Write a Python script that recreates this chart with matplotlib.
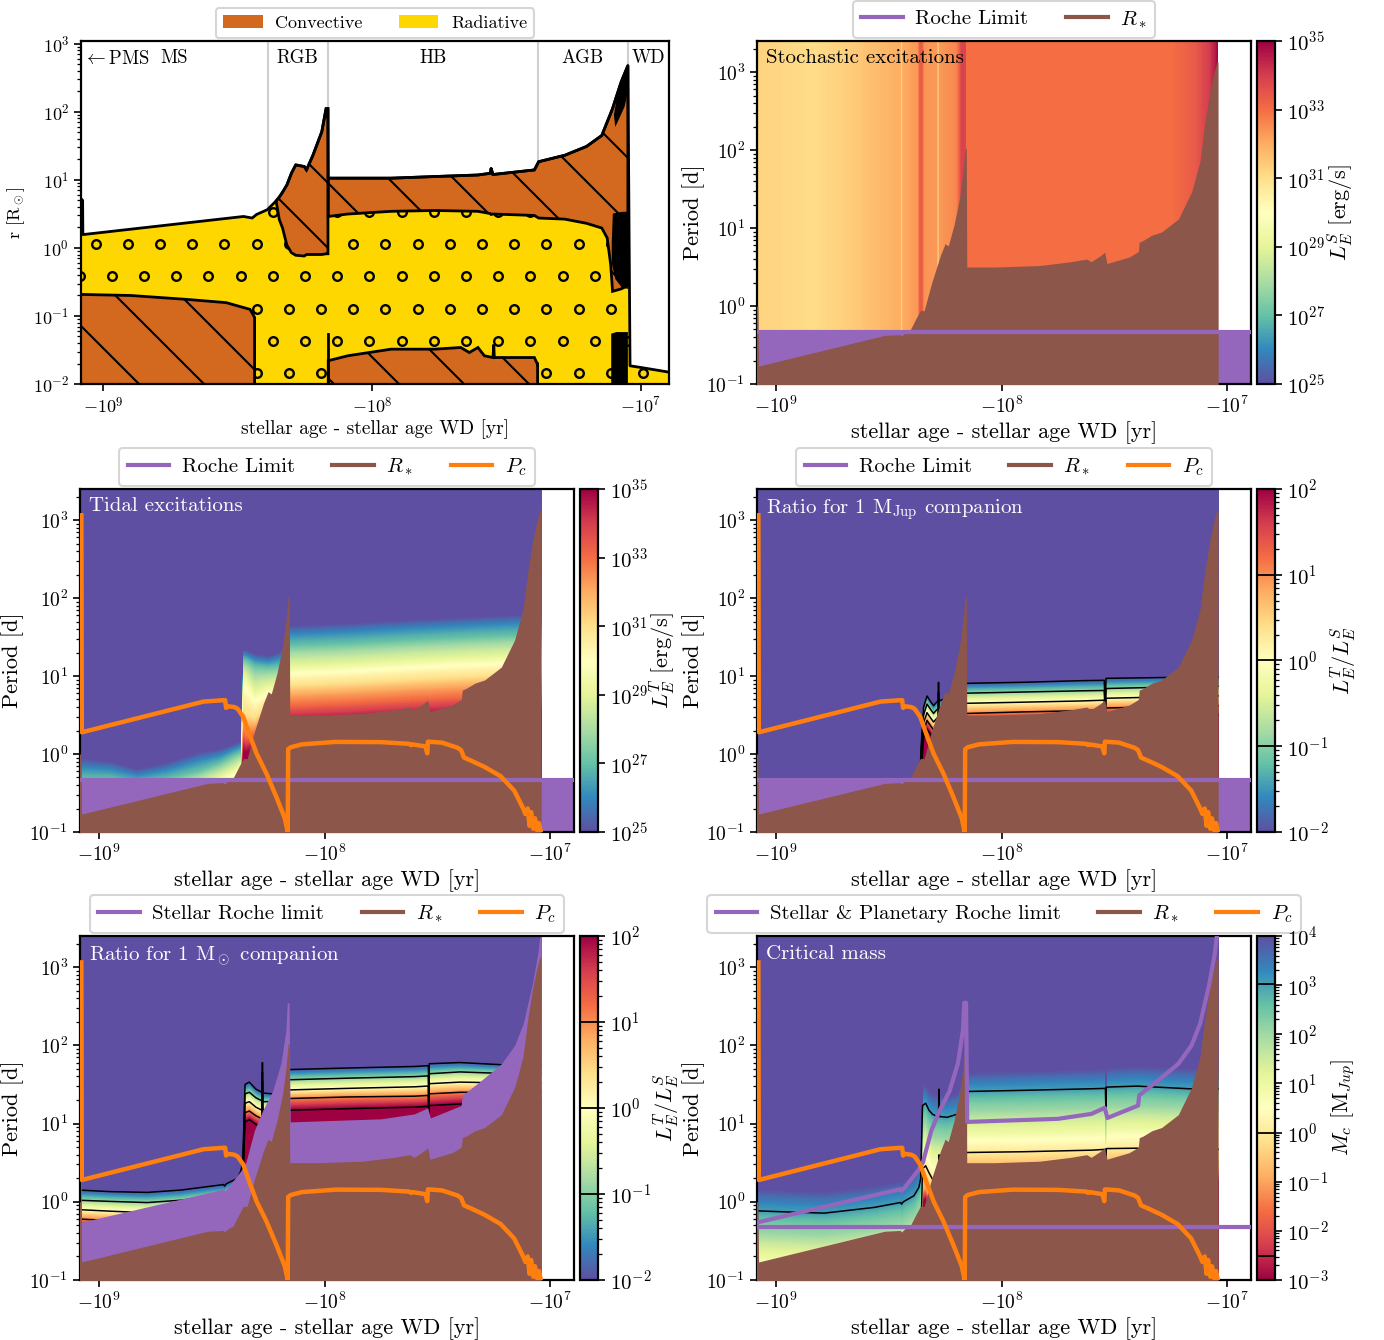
import numpy as np
import matplotlib
matplotlib.use("Agg")
import matplotlib.pyplot as plt
from matplotlib.cm import ScalarMappable
from matplotlib.collections import LineCollection
from matplotlib.colors import LogNorm
from matplotlib.lines import Line2D
from matplotlib.patches import Patch, Polygon
from matplotlib.ticker import NullLocator

plt.rcParams.update({
    "font.family": "serif",
    "font.serif": ["cmr10"],
    "mathtext.fontset": "cm",
    "axes.formatter.use_mathtext": True,
    "axes.linewidth": 1.6,
    "xtick.major.width": 1.2,
    "ytick.major.width": 1.2,
    "ytick.minor.width": 0.9,
    "xtick.major.size": 5,
    "ytick.major.size": 5,
    "ytick.minor.size": 3,
})

# ---------------------------------------------------------------------------
# Data. Ages are log10(years before the white dwarf stage), periods in days.
# ---------------------------------------------------------------------------

# stellar surface (Kippenhahn panel), radius in R_sun
surf_logage = [9.085, 9.077, 9.076, 8.478, 8.446, 8.430, 8.390, 8.357, 8.345, 8.333,
               8.317, 8.300, 8.284, 8.252, 8.244, 8.220, 8.187, 8.171, 8.164, 8.163,
               7.929, 7.767, 7.606, 7.560, 7.557, 7.550, 7.396, 7.380, 7.283, 7.202,
               7.145, 7.105, 7.073, 7.048, 7.040, 7.000, 6.880]
surf_r = [5.4, 5.0, 1.57, 2.9, 2.75, 3.1, 3.64, 4.9, 5.6, 6.6,
          8.4, 12.5, 16.6, 15.7, 14.0, 23, 51, 112, 112, 10.6,
          10.6, 11.2, 11.8, 12.5, 14.8, 12.0, 14, 18.5, 23, 31,
          45, 112, 275, 480, 0.0185, 0.0175, 0.0146]

# convective zones
ms_core_logage = [9.090, 9.076, 8.898, 8.688, 8.543, 8.454, 8.440, 8.437]
ms_core_top = [0.207, 0.207, 0.20, 0.175, 0.157, 0.125, 0.10, 0.095]

rgb_env_logage = [8.357, 8.345, 8.333, 8.317, 8.300, 8.284, 8.252, 8.244, 8.220, 8.187, 8.171, 8.164]
rgb_env_top = [4.9, 5.6, 6.6, 8.4, 12.5, 16.6, 15.7, 14.0, 23, 51, 112, 112]
rgb_env_base = [4.9, 2.6, 1.96, 1.1, 0.85, 0.78, 0.76, 0.80, 0.80, 0.80, 0.82, 0.82]

hb_env_logage = [8.163, 8.090, 7.929, 7.767, 7.606, 7.560, 7.557, 7.550, 7.396, 7.380,
                 7.283, 7.202, 7.145, 7.125, 7.112, 7.105, 7.073, 7.048]
hb_env_top = [10.6, 10.6, 10.6, 11.2, 11.8, 12.5, 14.8, 12.0, 14, 18.5,
              23, 31, 45, 71, 95, 112, 275, 480]
hb_env_base = [2.9, 3.15, 3.45, 3.55, 3.45, 3.2, 3.1, 3.15, 3.0, 2.75,
               2.65, 2.3, 1.96, 1.4, 0.57, 0.23, 0.25, 0.28]

hb_core_logage = [8.163, 8.090, 7.929, 7.767, 7.670, 7.638, 7.606, 7.582, 7.550, 7.547,
                  7.545, 7.396, 7.385, 7.384]
hb_core_top = [0.022, 0.026, 0.0325, 0.0325, 0.0344, 0.029, 0.0344, 0.026, 0.0245, 0.038,
               0.0245, 0.0245, 0.0197, 0.0197]

flash_logage = [8.163, 8.163]
flash_r = [0.001, 0.055]

# thermally pulsing AGB layers
pulse_env_logage = [7.108, 7.104, 7.070, 7.048, 7.048, 7.070, 7.095, 7.108]
pulse_env_r = [1.2, 3.2, 3.4, 3.4, 0.25, 0.26, 0.35, 0.6]
pulse_core_logage = [7.110, 7.110, 7.090, 7.048, 7.048]
pulse_core_r = [0.001, 0.055, 0.058, 0.058, 0.001]
pulse_surf_logage = [7.100, 7.085, 7.070, 7.055, 7.048, 7.048, 7.060, 7.080, 7.095]
pulse_surf_r = [90, 200, 300, 420, 520, 200, 120, 80, 60]

phase_logage = [8.389, 8.163, 7.384, 7.048]
phase_label_logage = [9.075, 8.735, 8.276, 7.773, 7.216, 6.970]
phase_labels = [r"$\leftarrow$PMS", "MS", "RGB", "HB", "AGB", "WD"]

# orbital period at the stellar surface
rstar_logage = [9.090, 9.079, 9.076, 8.518, 8.449, 8.443, 8.429, 8.405, 8.379, 8.359,
                8.343, 8.309, 8.270, 8.250, 8.236, 8.210, 8.186, 8.171, 8.161, 8.156,
                8.154, 8.031, 7.832, 7.693, 7.623, 7.603, 7.563, 7.543, 7.533, 7.434,
                7.394, 7.390, 7.374, 7.334, 7.291, 7.217, 7.158, 7.121, 7.100, 7.080,
                7.062, 7.046, 7.041, 7.040]
rstar_period = [1.0, 1.0, 0.17, 0.42, 0.43, 0.41, 0.45, 0.49, 0.69, 0.88,
                0.87, 2.0, 4.5, 6.3, 5.9, 11, 24, 50, 105, 105,
                3.16, 3.16, 3.3, 3.7, 4.0, 3.7, 4.4, 4.9, 3.5, 4.25,
                5.0, 6.6, 6.9, 8.1, 8.9, 13, 29, 71, 215, 500,
                900, 1350, 1350, 0.001]

# stellar Roche limit (planetary companion) and for a solar-mass companion
roche_logage = [9.3, 6.7]
roche_period = [0.47, 0.47]

prs_logage = [9.090, 9.079, 9.076, 8.447, 8.443, 8.430, 8.370, 8.348, 8.311, 8.274,
              8.230, 8.193, 8.171, 8.165, 8.157, 8.152, 7.750, 7.602, 7.543, 7.531,
              7.395, 7.390, 7.306, 7.217, 7.158, 7.120, 7.080, 7.055, 7.045, 7.040,
              7.039]
prs_period = [3.2, 3.2, 0.55, 1.45, 1.38, 1.5, 2.5, 3.2, 8.1, 14.7,
              26, 59, 155, 350, 350, 10.5, 11.5, 13.3, 15.9, 11.8,
              17, 23, 35.6, 58, 100, 190, 600, 1500, 2700, 2700,
              0.001]

# critical period P_c
pc_logage = [9.077, 9.075, 8.536, 8.448, 8.440, 8.436, 8.430, 8.400, 8.385, 8.360,
             8.330, 8.300, 8.257, 8.213, 8.176, 8.163, 8.161, 8.150, 8.100, 7.950,
             7.750, 7.625, 7.617, 7.610, 7.553, 7.545, 7.542, 7.480, 7.410, 7.395,
             7.382, 7.350, 7.290, 7.220, 7.160, 7.120, 7.110, 7.100, 7.092, 7.085,
             7.075, 7.068, 7.058, 7.050, 7.042]
pc_period = [1150, 1.9, 4.7, 4.9, 4.9, 3.9, 4.1, 4.0, 3.8, 3.0,
             1.7, 1.0, 0.56, 0.28, 0.15, 0.1, 1.15, 1.22, 1.33, 1.43,
             1.42, 1.35, 1.30, 1.33, 1.25, 1.02, 1.44, 1.40, 1.20, 1.12,
             0.90, 0.82, 0.68, 0.52, 0.34, 0.20, 0.17, 0.20, 0.12, 0.18,
             0.11, 0.15, 0.105, 0.13, 0.10]

# stochastic excitation luminosity, log10 L_E^S [erg/s]
ls_logage = [9.090, 8.950, 8.830, 8.700, 8.550, 8.460, 8.448, 8.443, 8.438, 8.400,
             8.372, 8.362, 8.352, 8.342, 8.285, 8.281, 8.277, 8.200, 8.188, 8.178,
             8.160, 8.156, 7.240, 7.140, 7.080, 7.056, 7.040]
ls_value = [31.25, 31.15, 31.05, 31.3, 31.7, 32.0, 32.0, 31.3, 32.0, 32.2,
            32.3, 33.4, 33.4, 32.4, 32.3, 31.0, 32.3, 32.6, 33.2, 33.9,
            33.9, 33.0, 33.0, 33.4, 34.0, 34.5, 35.0]

# tidal excitation luminosity: log10 P where log10 L_E^T = 35, 33, ..., 25
lt_levels = [35, 33, 31, 29, 27, 25]
lt_logage = [9.090, 8.950, 8.830, 8.700, 8.550, 8.460, 8.400, 8.370, 8.358, 8.350,
             8.310, 8.250, 8.200, 8.158, 8.155, 7.900, 7.600, 7.300, 7.040]
lt_p35 = [-0.90, -0.90, -0.90, -0.90, -0.84, -0.76, -0.70, -0.56, 0.02, 0.00,
          0.05, 0.15, 0.18, 0.20, 0.36, 0.39, 0.44, 0.48, 0.51]
lt_p33 = [-0.75, -0.75, -0.76, -0.75, -0.68, -0.60, -0.55, -0.42, 0.25, 0.20,
          0.25, 0.35, 0.40, 0.45, 0.62, 0.65, 0.70, 0.74, 0.77]
lt_p31 = [-0.64, -0.64, -0.66, -0.64, -0.55, -0.45, -0.38, -0.28, 0.55, 0.50,
          0.45, 0.60, 0.65, 0.70, 0.87, 0.90, 0.95, 0.99, 1.02]
lt_p29 = [-0.50, -0.50, -0.52, -0.50, -0.40, -0.29, -0.20, -0.13, 1.02, 1.00,
          0.80, 0.88, 0.90, 0.95, 1.13, 1.16, 1.21, 1.25, 1.28]
lt_p27 = [-0.33, -0.33, -0.38, -0.33, -0.22, -0.12, -0.02, 0.02, 1.20, 1.20,
          1.12, 1.10, 1.12, 1.20, 1.385, 1.41, 1.46, 1.50, 1.53]
lt_p25 = [-0.06, -0.10, -0.20, -0.12, 0.02, 0.06, 0.12, 0.16, 1.33, 1.33,
          1.28, 1.25, 1.30, 1.40, 1.64, 1.67, 1.72, 1.76, 1.79]

# ratio L_E^T / L_E^S for a 1 M_Jup companion: log10 P of ratio = 1e2 ... 1e-2
ratio_levels = [2, 1, 0, -1, -2]
rj_logage = [9.090, 8.370, 8.357, 8.345, 8.330, 8.316, 8.301, 8.286, 8.281, 8.279,
             8.277, 8.260, 8.200, 8.158, 7.900, 7.650, 7.545, 7.541, 7.537, 7.300,
             7.040]
rj_p2 = [-1.90, -1.90, -0.25, 0.20, 0.32, 0.26, 0.20, 0.25, 0.26, 0.44,
         0.26, 0.27, 0.27, 0.39, 0.41, 0.43, 0.44, 0.20, 0.465, 0.48, 0.50]
rj_p1 = [-1.80, -1.80, -0.17, 0.30, 0.43, 0.37, 0.31, 0.36, 0.37, 0.56,
         0.37, 0.38, 0.38, 0.52, 0.54, 0.555, 0.565, 0.30, 0.59, 0.605, 0.62]
rj_p0 = [-1.70, -1.70, -0.10, 0.40, 0.53, 0.47, 0.41, 0.46, 0.47, 0.68,
         0.47, 0.48, 0.48, 0.65, 0.665, 0.68, 0.69, 0.40, 0.715, 0.73, 0.745]
rj_pm1 = [-1.60, -1.60, -0.03, 0.50, 0.64, 0.58, 0.52, 0.57, 0.58, 0.80,
          0.58, 0.59, 0.59, 0.78, 0.795, 0.81, 0.815, 0.48, 0.84, 0.855, 0.87]
rj_pm2 = [-1.50, -1.50, 0.05, 0.60, 0.744, 0.68, 0.62, 0.67, 0.68, 0.92,
          0.68, 0.70, 0.70, 0.906, 0.92, 0.94, 0.945, 0.56, 0.97, 0.98, 0.99]

# same ratio for a 1 M_sun companion
rsun_logage = [9.090, 8.950, 8.784, 8.636, 8.447, 8.443, 8.435, 8.385, 8.370, 8.362,
               8.352, 8.333, 8.304, 8.277, 8.275, 8.273, 8.230, 8.190, 8.158, 7.900,
               7.600, 7.540, 7.538, 7.536, 7.400, 7.200, 7.040]
rsun_p2 = [-0.34, -0.36, -0.38, -0.35, -0.28, -0.30, -0.26, -0.20, -0.10, 0.20,
           1.02, 1.05, 0.99, 0.95, 1.30, 0.95, 0.96, 0.98, 1.17, 1.19,
           1.21, 1.22, 0.80, 1.23, 1.25, 1.25, 1.25]
rsun_p1 = [-0.22, -0.24, -0.26, -0.23, -0.16, -0.18, -0.14, -0.08, 0.02, 0.28,
           1.14, 1.16, 1.10, 1.06, 1.42, 1.06, 1.07, 1.09, 1.32, 1.34,
           1.35, 1.36, 0.95, 1.38, 1.40, 1.40, 1.40]
rsun_p0 = [-0.10, -0.12, -0.14, -0.11, -0.04, -0.06, -0.02, 0.05, 0.15, 0.36,
           1.26, 1.28, 1.21, 1.17, 1.54, 1.17, 1.18, 1.20, 1.43, 1.45,
           1.47, 1.48, 1.05, 1.51, 1.53, 1.52, 1.52]
rsun_pm1 = [0.02, 0.005, -0.01, 0.02, 0.09, 0.07, 0.11, 0.17, 0.27, 0.44,
            1.38, 1.40, 1.33, 1.29, 1.66, 1.28, 1.28, 1.30, 1.56, 1.58,
            1.60, 1.61, 1.15, 1.637, 1.66, 1.64, 1.64]
rsun_pm2 = [0.15, 0.13, 0.12, 0.15, 0.22, 0.20, 0.23, 0.30, 0.40, 0.52,
            1.50, 1.53, 1.44, 1.40, 1.78, 1.39, 1.38, 1.40, 1.69, 1.71,
            1.73, 1.74, 1.23, 1.765, 1.78, 1.75, 1.75]

# critical mass: log10 P where log10 M_c [M_Jup] = -1, 0, 1, 2, 3.02 (M_sun), 4
mc_levels = [-1, 0, 1, 2, 3.02, 4]
mc_lines = [0.00315, 1.0, 1047.0]   # M_earth, M_Jup, M_sun in M_Jup
mc_logage = [9.090, 8.900, 8.785, 8.564, 8.447, 8.443, 8.435, 8.388, 8.366, 8.358,
             8.350, 8.336, 8.321, 8.306, 8.292, 8.279, 8.277, 8.275, 8.241, 8.196,
             8.158, 7.900, 7.600, 7.540, 7.538, 7.536, 7.400, 7.170, 7.040]
mc_pm1 = [-1.28, -1.30, -1.31, -1.24, -1.18, -1.20, -1.17, -1.09, -1.00, -0.90,
          0.15, 0.19, 0.10, 0.02, 0.00, 0.00, 0.30, 0.00, -0.02, 0.02,
          0.37, 0.38, 0.41, 0.42, 0.15, 0.43, 0.43, 0.42, 0.42]
mc_p0 = [-0.99, -1.01, -1.02, -0.95, -0.89, -0.91, -0.88, -0.80, -0.71, -0.60,
         0.42, 0.46, 0.37, 0.29, 0.27, 0.27, 0.60, 0.27, 0.25, 0.29,
         0.63, 0.64, 0.66, 0.67, 0.40, 0.68, 0.685, 0.67, 0.67]
mc_p1 = [-0.70, -0.72, -0.73, -0.66, -0.60, -0.62, -0.59, -0.51, -0.42, -0.30,
         0.69, 0.73, 0.64, 0.56, 0.54, 0.54, 0.90, 0.54, 0.52, 0.56,
         0.89, 0.90, 0.92, 0.93, 0.65, 0.94, 0.95, 0.93, 0.93]
mc_p2 = [-0.41, -0.43, -0.44, -0.37, -0.31, -0.33, -0.30, -0.22, -0.13, 0.00,
         0.96, 1.00, 0.91, 0.83, 0.81, 0.81, 1.20, 0.81, 0.79, 0.83,
         1.15, 1.16, 1.18, 1.19, 0.95, 1.20, 1.21, 1.19, 1.19]
mc_p3 = [-0.115, -0.135, -0.145, -0.072, -0.009, -0.03, 0.00, 0.077, 0.184, 0.30,
         1.23, 1.26, 1.17, 1.12, 1.10, 1.09, 1.44, 1.09, 1.08, 1.12,
         1.41, 1.425, 1.445, 1.45, 1.21, 1.466, 1.479, 1.445, 1.445]
mc_p4 = [0.17, 0.15, 0.14, 0.21, 0.27, 0.25, 0.28, 0.36, 0.45, 0.55,
         1.48, 1.52, 1.43, 1.40, 1.38, 1.38, 1.60, 1.38, 1.36, 1.40,
         1.66, 1.68, 1.70, 1.71, 1.45, 1.72, 1.74, 1.71, 1.71]

# ---------------------------------------------------------------------------
PURPLE, BROWN, ORANGE = "#9467bd", "#8c564b", "#ff7f0e"
CONV, RAD = "#d2691e", "#ffd700"
XLABEL = "stellar age - stellar age WD [yr]"
XLIM = (-10 ** 9.083, -10 ** 6.895)
XTICKS = [-1e9, -1e8, -1e7]
XTICKLABELS = [r"$-10^{9}$", r"$-10^{8}$", r"$-10^{7}$"]

FIG_W, FIG_H = 1384, 1340
fig = plt.figure(figsize=(FIG_W / 100, FIG_H / 100), dpi=100)


def rect(x0, y0, x1, y1):
    return [x0 / FIG_W, 1 - y1 / FIG_H, (x1 - x0) / FIG_W, (y1 - y0) / FIG_H]


def years(logage):
    return -10.0 ** np.asarray(logage, dtype=float)


def style_xaxis(ax, size):
    ax.set_xscale("symlog", linthresh=1e4)
    ax.set_xlim(*XLIM)
    ax.set_xticks(XTICKS)
    ax.set_xticklabels(XTICKLABELS)
    ax.xaxis.set_minor_locator(NullLocator())
    ax.tick_params(labelsize=size)


# ---------------------------------------------------------------------------
# Kippenhahn diagram
# ---------------------------------------------------------------------------
ax = fig.add_axes(rect(81, 41, 669, 384))
ax.set_yscale("log")
style_xaxis(ax, 13)
ax.set_ylim(1e-2, 1.1e3)

for lg in phase_logage:
    ax.axvline(years(lg), color="#cfcfcf", lw=1.5, zorder=0.5)

sx = years(surf_logage)
rad = Polygon(np.column_stack([np.r_[sx, sx[::-1]],
                               np.r_[surf_r, np.full(sx.size, 1e-2)]]),
              facecolor=RAD, edgecolor="none", zorder=1)
ax.add_patch(rad)

# open-circle pattern for radiative regions (32 px staggered grid)
AW, AH = 588, 343
cu, cv = [], []
for m in range(-7, 6):
    yi = 244.3 + 32.1 * m
    shift = 16.1 * (m % 2)
    for j in range(-1, 20):
        u = (95.6 + 32.2 * j + shift - 81) / AW
        v = (384 - yi) / AH
        if -0.01 < u < 1.01 and -0.02 < v < 1.02:
            cu.append(u)
            cv.append(v)
dots, = ax.plot(cu, cv, ls="none", marker="o", ms=6.2, mfc="none", mec="k", mew=1.7,
                transform=ax.transAxes, clip_path=rad, zorder=1.5)
dots.set_clip_box(ax.bbox)

# sparse diagonal hatching for convective regions
hatch_segs = []
for k in range(-3, 18):
    c = 58 + 65 * k
    hatch_segs.append([(-0.2, (c + 0.2 * AW) / AH), (1.2, (c - 1.2 * AW) / AH)])


def conv_zone(logage, lower, upper):
    x = years(logage)
    verts = np.column_stack([np.r_[x, x[::-1]],
                             np.r_[upper, np.asarray(lower, float)[::-1]]])
    face = Polygon(verts, facecolor=CONV, edgecolor="none", zorder=2)
    ax.add_patch(face)
    lc = LineCollection(hatch_segs, colors="k", linewidths=1.5,
                        transform=ax.transAxes, zorder=2.2)
    ax.add_collection(lc, autolim=False)
    lc.set_clip_path(face)
    lc.set_clip_box(ax.bbox)
    ax.add_patch(Polygon(verts, facecolor="none", edgecolor="k", lw=2, zorder=2.4))


conv_zone(ms_core_logage, np.full(len(ms_core_logage), 1e-3), ms_core_top)
conv_zone(rgb_env_logage, rgb_env_base, rgb_env_top)
conv_zone(hb_env_logage, hb_env_base, hb_env_top)
conv_zone(hb_core_logage, np.full(len(hb_core_logage), 1e-3), hb_core_top)

ax.plot(years(flash_logage), flash_r, color="k", lw=2, zorder=2.5)
for lg, rr in [(pulse_env_logage, pulse_env_r), (pulse_core_logage, pulse_core_r),
               (pulse_surf_logage, pulse_surf_r)]:
    ax.fill(years(lg), rr, color="k", lw=0, zorder=2.6)
ax.plot(sx, surf_r, color="k", lw=2, zorder=3)

for lg, lab in zip(phase_label_logage, phase_labels):
    ax.text(years(lg), 0.975, lab, transform=ax.get_xaxis_transform(),
            ha="left" if "PMS" in lab else "center", va="top", fontsize=13.5, zorder=4)

ax.set_xlabel(XLABEL, fontsize=14, labelpad=2)
ax.set_ylabel(r"r [R$_\odot$]", fontsize=13)
leg = ax.legend(handles=[Patch(facecolor=CONV, label="Convective"),
                         Patch(facecolor=RAD, label="Radiative")],
                loc="lower center", bbox_to_anchor=(0.5, 1.0), ncol=2,
                fontsize=13, handlelength=2.2, handletextpad=0.7, borderaxespad=0.15)
leg.get_frame().set_linewidth(1.5)


# ---------------------------------------------------------------------------
# period-age panels
# ---------------------------------------------------------------------------
def period_axes(box, ylabelpad=4):
    a = fig.add_axes(rect(*box))
    a.set_yscale("log")
    style_xaxis(a, 14)
    a.set_ylim(0.1, 2500)
    a.set_xlabel(XLABEL, fontsize=16, labelpad=3)
    a.set_ylabel("Period [d]", fontsize=16, labelpad=ylabelpad)
    return a


def level_field(a, logage, rows, zvals, zlow, zhigh, cmap, vmin, vmax):
    x = years(logage)
    ys = [np.full(x.size, -3.0)] + [np.asarray(r, float) for r in rows] + [np.full(x.size, 4.0)]
    zs = [zlow] + list(zvals) + [zhigh]
    X = np.tile(x, (len(ys), 1))
    Y = 10.0 ** np.vstack(ys)
    Z = np.vstack([np.full(x.size, z, float) for z in zs])
    a.contourf(X, Y, Z, levels=np.linspace(vmin, vmax, 241), cmap=cmap,
               extend="both", antialiased=False, zorder=1)


def colorbar(box, vmin, vmax, cmap, label, ticks, minor, lines=()):
    cax = fig.add_axes(rect(*box))
    cb = fig.colorbar(ScalarMappable(norm=LogNorm(vmin, vmax), cmap=cmap), cax=cax)
    cb.set_ticks(ticks)
    if minor:
        cb.minorticks_on()
    else:
        cax.yaxis.set_minor_locator(NullLocator())
    for v in lines:
        cax.axhline(v, color="k", lw=1.3)
    cax.tick_params(labelsize=15)
    cb.set_label(label, fontsize=16, labelpad=0)
    return cb


def stellar_layers(a, roche_fill=True, roche_line=True):
    if roche_fill:
        a.fill_between(years(roche_logage), 1e-3, roche_period, color=PURPLE, lw=0, zorder=2)
    a.fill_between(years(rstar_logage), 1e-3, rstar_period, color=BROWN, lw=0, zorder=3)
    if roche_line:
        a.plot(years(roche_logage), roche_period, color=PURPLE, lw=3, zorder=4)


def add_pc(a):
    a.plot(years(pc_logage), pc_period, color=ORANGE, lw=3.2, zorder=5,
           solid_joinstyle="round")


def panel_legend(a, labels):
    handles = [Line2D([], [], color=c, lw=3, label=l)
               for c, l in zip([PURPLE, BROWN, ORANGE], labels)]
    lg = a.legend(handles=handles, loc="lower center", bbox_to_anchor=(0.5, 1.0),
                  ncol=len(labels), fontsize=15, handlelength=2.0, handletextpad=0.6,
                  columnspacing=1.8, borderaxespad=0.15)
    lg.get_frame().set_linewidth(1.5)


def panel_title(a, text, color):
    a.text(0.018, 0.975, text, transform=a.transAxes, ha="left", va="top",
           fontsize=15, color=color, zorder=6)


L_TICKS = [1e25, 1e27, 1e29, 1e31, 1e33, 1e35]
R_TICKS = [1e-2, 1e-1, 1e0, 1e1, 1e2]
M_TICKS = [1e-3, 1e-2, 1e-1, 1e0, 1e1, 1e2, 1e3, 1e4]

# stochastic excitations
ax = period_axes((757, 41, 1251, 384), ylabelpad=1)
xs = years(ls_logage)
ax.contourf(np.tile(xs, (2, 1)), np.vstack([np.full(xs.size, 1e-3), np.full(xs.size, 1e4)]),
            np.vstack([ls_value, ls_value]), levels=np.linspace(25, 35, 241),
            cmap="Spectral_r", extend="both", antialiased=False, zorder=1)
stellar_layers(ax)
panel_title(ax, "Stochastic excitations", "black")
panel_legend(ax, ["Roche Limit", r"$R_*$"])
colorbar((1257, 41, 1275, 384), 1e25, 1e35, "Spectral_r", r"$L_E^S$ [erg/s]", L_TICKS, False)

# tidal excitations
ax = period_axes((80, 489, 574, 832))
level_field(ax, lt_logage, [lt_p35, lt_p33, lt_p31, lt_p29, lt_p27, lt_p25],
            lt_levels, 45, 15, "Spectral_r", 25, 35)
stellar_layers(ax)
add_pc(ax)
panel_title(ax, "Tidal excitations", "white")
panel_legend(ax, ["Roche Limit", r"$R_*$", r"$P_c$"])
colorbar((580, 489, 598, 832), 1e25, 1e35, "Spectral_r", r"$L_E^T$ [erg/s]", L_TICKS, False)

# ratio, Jupiter-mass companion
ax = period_axes((757, 489, 1251, 832), ylabelpad=1)
rows = [rj_p2, rj_p1, rj_p0, rj_pm1, rj_pm2]
level_field(ax, rj_logage, rows, ratio_levels, 8, -8, "Spectral_r", -2, 2)
for r in rows:
    ax.plot(years(rj_logage), 10.0 ** np.asarray(r), color="k", lw=1.1, zorder=1.5)
stellar_layers(ax)
add_pc(ax)
panel_title(ax, r"Ratio for 1 M$_{\rm Jup}$ companion", "white")
panel_legend(ax, ["Roche Limit", r"$R_*$", r"$P_c$"])
colorbar((1257, 489, 1275, 832), 1e-2, 1e2, "Spectral_r", r"$L_E^T/L_E^S$", R_TICKS, True,
         lines=[1e-1, 1e0, 1e1])

# ratio, solar-mass companion
ax = period_axes((80, 936, 574, 1280))
rows = [rsun_p2, rsun_p1, rsun_p0, rsun_pm1, rsun_pm2]
level_field(ax, rsun_logage, rows, ratio_levels, 8, -8, "Spectral_r", -2, 2)
for r in rows:
    ax.plot(years(rsun_logage), 10.0 ** np.asarray(r), color="k", lw=1.1, zorder=1.5)
ax.fill_between(years(prs_logage), 1e-3, prs_period, color=PURPLE, lw=0, zorder=2)
stellar_layers(ax, roche_fill=False, roche_line=False)
add_pc(ax)
panel_title(ax, r"Ratio for 1 M$_\odot$ companion", "white")
panel_legend(ax, ["Stellar Roche limit", r"$R_*$", r"$P_c$"])
colorbar((580, 936, 598, 1280), 1e-2, 1e2, "Spectral_r", r"$L_E^T/L_E^S$", R_TICKS, True,
         lines=[1e-1, 1e0, 1e1])

# critical mass
ax = period_axes((757, 936, 1251, 1280), ylabelpad=1)
rows = [mc_pm1, mc_p0, mc_p1, mc_p2, mc_p3, mc_p4]
level_field(ax, mc_logage, rows, mc_levels, -8, 10, "Spectral", -3, 4)
for r in (mc_p0, mc_p3):
    ax.plot(years(mc_logage), 10.0 ** np.asarray(r), color="k", lw=1.1, zorder=1.5)
stellar_layers(ax, roche_fill=False, roche_line=True)
ax.plot(years(prs_logage[2:-1]), prs_period[2:-1], color=PURPLE, lw=3, zorder=4)
add_pc(ax)
panel_title(ax, "Critical mass", "white")
panel_legend(ax, ["Stellar & Planetary Roche limit", r"$R_*$", r"$P_c$"])
colorbar((1257, 936, 1275, 1280), 1e-3, 1e4, "Spectral", r"$M_c$ [M$_{Jup}$]", M_TICKS, True,
         lines=mc_lines)

fig.savefig("out.png", dpi=100)
